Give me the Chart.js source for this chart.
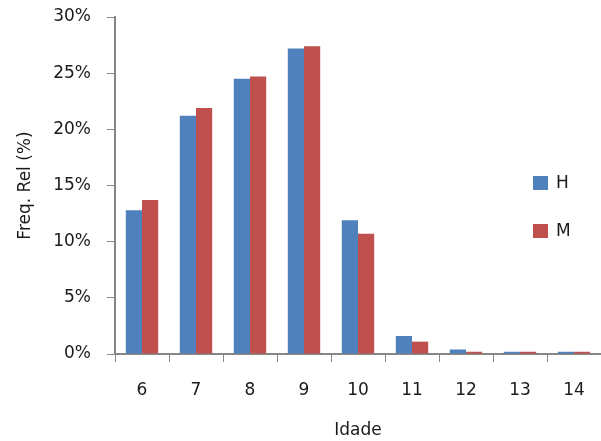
<!DOCTYPE html>
<html>
<head>
<meta charset="utf-8">
<script src="https://cdn.jsdelivr.net/npm/chart.js@4/dist/chart.umd.min.js"></script>
<style>
  html, body { margin: 0; padding: 0; background: #ffffff; }
  #wrap { width: 601px; height: 441px; position: relative; }
</style>
</head>
<body>
<div id="wrap"><canvas id="c"></canvas></div>
<script>
// Age groups (years)
const idades = ['6', '7', '8', '9', '10', '11', '12', '13', '14'];
// Relative frequency (%) by sex
const freqH = [12.8, 21.2, 24.5, 27.2, 11.9, 1.6, 0.4, 0.2, 0.2];
const freqM = [13.7, 21.9, 24.7, 27.4, 10.7, 1.1, 0.2, 0.2, 0.2];
const serieNomes = ['H', 'M'];
const yTicks = [0, 5, 10, 15, 20, 25, 30];

const corH = '#4F81BD';
const corM = '#C0504D';
const corEixo = '#868686';
const corTexto = '#1a1a1a';
const fonte = { family: 'DejaVu Sans', size: 17 };

// Legend drawn inside the right part of the plot
const legendaDireita = {
  id: 'legendaDireita',
  afterDraw(chart) {
    const ctx = chart.ctx;
    const items = chart.data.datasets.map(d => ({ label: d.label, color: d.backgroundColor }));
    const x0 = 533, y0 = 176, gap = 48, box = 15;
    ctx.save();
    ctx.font = '17px "DejaVu Sans"';
    ctx.textBaseline = 'middle';
    ctx.textAlign = 'left';
    items.forEach((it, i) => {
      const y = y0 + i * gap;
      ctx.fillStyle = it.color;
      ctx.fillRect(x0, y, box, box - 1);
      ctx.fillStyle = corTexto;
      ctx.fillText(it.label, x0 + 23, y + box / 2);
    });
    ctx.restore();
  }
};

new Chart(document.getElementById('c'), {
  type: 'bar',
  data: {
    labels: idades,
    datasets: [
      { label: serieNomes[0], data: freqH, backgroundColor: corH },
      { label: serieNomes[1], data: freqM, backgroundColor: corM }
    ]
  },
  options: {
    responsive: true,
    maintainAspectRatio: false,
    animation: false,
    layout: { padding: { top: 17, right: 0, left: 0, bottom: 0 } },
    datasets: { bar: { categoryPercentage: 0.6, barPercentage: 1.0 } },
    plugins: { legend: { display: false }, tooltip: { enabled: false } },
    scales: {
      x: {
        grid: { display: true, drawOnChartArea: false, drawTicks: true, tickLength: 8, color: corEixo, offset: true },
        border: { display: true, color: corEixo, width: 2 },
        ticks: { color: corTexto, font: fonte, padding: 18, maxRotation: 0 },
        title: { display: true, text: 'Idade', color: corTexto, font: fonte, padding: { top: 0, bottom: 0 } },
        afterFit(scale) { scale.height = 87; scale.paddingLeft = 0; scale.paddingRight = 0; }
      },
      y: {
        min: 0,
        max: 30,
        afterBuildTicks(scale) { scale.ticks = yTicks.map(v => ({ value: v })); },
        grid: { display: true, drawOnChartArea: false, drawTicks: true, tickLength: 8, color: corEixo },
        border: { display: true, color: corEixo, width: 2 },
        ticks: { color: corTexto, font: fonte, padding: 16, callback: v => v + '%' },
        title: { display: true, text: 'Freq. Rel (%)', color: corTexto, font: fonte, padding: { top: 15, bottom: 0 } },
        afterFit(scale) { scale.width = 115; scale.paddingTop = 0; scale.paddingBottom = 0; }
      }
    }
  },
  plugins: [legendaDireita]
});
</script>
</body>
</html>
